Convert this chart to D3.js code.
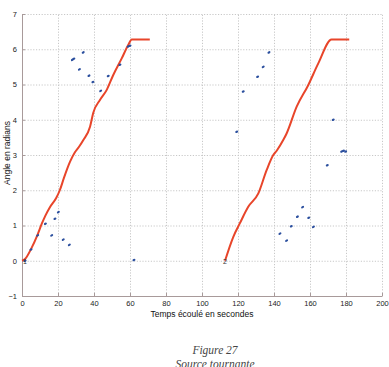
<!DOCTYPE html>
<html>
<head>
<meta charset="utf-8">
<script src="https://cdn.jsdelivr.net/npm/d3@7"></script>
<style>
  body { margin: 0; background: #fff; }
  svg { display: block; }
  .grid line { stroke: #c8c8c8; stroke-dasharray: 1.2,1.6; }
  .grid path { display: none; }
  .axis text { font-family: Arial, "Liberation Sans", sans-serif; font-size: 7.5px; fill: #222; }
  .axis path, .axis line { stroke: #a89a9a; }
</style>
</head>
<body>
<div id="chart"></div>
<script>
// data
var xTicks = [0, 20, 40, 60, 80, 100, 120, 140, 160, 180, 200];
var yTicks = [-1, 0, 1, 2, 3, 4, 5, 6, 7];

// red curve, first rotation
var curve1 = [[0,0],[1.7,0.05],[5,0.33],[8.5,0.72],[11,1.05],[13,1.28],[15.5,1.52],[19,1.78],[21,2.0],
  [23.3,2.35],[26.7,2.81],[29.4,3.08],[31.5,3.22],[34,3.42],[37.8,3.8],[39.6,4.2],[43.3,4.56],[47,4.84],
  [50.7,5.27],[55.4,5.74],[59,6.12],[61,6.28],[71,6.28]];
// red curve, second rotation
var curve2 = [[112.8,0],[117.4,0.68],[121,1.06],[125.7,1.53],[131.3,1.91],[135.9,2.57],[139.6,3.0],
  [141.5,3.12],[145.2,3.43],[147,3.61],[152.6,4.37],[159,4.98],[164.6,5.6],[172,6.28],[181.8,6.28]];

// blue measured points
var points = [[1.7,0],[5,0.32],[8.7,0.72],[13,1.05],[16.5,0.72],[18.3,1.19],[20.2,1.38],[22.9,0.6],
  [26.3,0.45],[62.2,0.02],[28,5.7],[28.8,5.73],[34,5.91],[31.9,5.43],[37.2,5.25],[39.4,5.07],
  [43.7,4.82],[47.9,5.24],[54.4,5.56],[59,6.08],[60,6.1],
  [119.3,3.66],[122.9,4.8],[130.9,5.22],[134,5.5],[137.2,5.91],[172.9,4.0],[169.6,2.71],
  [177.6,3.1],[178.6,3.12],[179.8,3.1],[143.3,0.77],[147,0.57],[149.6,0.98],[153,1.25],
  [155.9,1.52],[159.3,1.22],[161.9,0.96]];

var W = 389, H = 367;
var mLeft = 22, mRight = 382, mTop = 14, mBottom = 296;

var svg = d3.select("#chart").append("svg")
    .attr("width", W)
    .attr("height", H);

var x = d3.scaleLinear().domain([0, 200]).range([mLeft, mRight]),
    y = d3.scaleLinear().domain([-1, 7]).range([mBottom, mTop]);

// gridlines
svg.append("g")
    .attr("class", "grid")
    .attr("transform", "translate(0," + mBottom + ")")
    .call(d3.axisBottom(x).tickValues(xTicks.slice(1)).tickSize(-(mBottom - mTop)).tickFormat(""));
svg.append("g")
    .attr("class", "grid")
    .attr("transform", "translate(" + mLeft + ",0)")
    .call(d3.axisLeft(y).tickValues(yTicks.slice(1)).tickSize(-(mRight - mLeft)).tickFormat(""));

// axes
svg.append("g")
    .attr("class", "axis")
    .attr("transform", "translate(0," + mBottom + ")")
    .call(d3.axisBottom(x).tickValues(xTicks).tickSizeInner(-3).tickSizeOuter(0).tickPadding(5));
svg.append("g")
    .attr("class", "axis")
    .attr("transform", "translate(" + mLeft + ",0)")
    .call(d3.axisLeft(y).tickValues(yTicks).tickSizeInner(-3).tickSizeOuter(0).tickPadding(5));

// curves
var line = d3.line()
    .x(function(d) { return x(d[0]); })
    .y(function(d) { return y(d[1]); })
    .curve(d3.curveMonotoneX);

[curve1, curve2].forEach(function(c) {
  svg.append("path")
      .datum(c)
      .attr("d", line)
      .attr("fill", "none")
      .attr("stroke", "#e8452a")
      .attr("stroke-width", 2);
});

// measured points
svg.selectAll(".pt")
  .data(points)
  .enter().append("ellipse")
    .attr("class", "pt")
    .attr("cx", function(d) { return x(d[0]); })
    .attr("cy", function(d) { return y(d[1]); })
    .attr("rx", 1.6)
    .attr("ry", 1.1)
    .attr("transform", function(d) { return "rotate(-30," + x(d[0]) + "," + y(d[1]) + ")"; })
    .attr("fill", "#2b4f9e");

// start markers
svg.append("text")
    .attr("x", x(1.7)).attr("y", y(0) + 3)
    .attr("text-anchor", "middle")
    .style("font-family", "Arial, sans-serif").style("font-size", "7px").style("fill", "#333")
    .text("1");
svg.append("text")
    .attr("x", x(112.8)).attr("y", y(0) + 3)
    .attr("text-anchor", "middle")
    .style("font-family", "Arial, sans-serif").style("font-size", "7px").style("fill", "#333")
    .text("2");

// axis labels
svg.append("text")
    .attr("x", (mLeft + mRight) / 2)
    .attr("y", 317)
    .attr("text-anchor", "middle")
    .style("font-family", "Arial, sans-serif").style("font-size", "8.5px").style("fill", "#111")
    .text("Temps écoulé en secondes");
svg.append("text")
    .attr("transform", "translate(10," + 153 + ") rotate(-90)")
    .attr("text-anchor", "middle")
    .style("font-family", "Arial, sans-serif").style("font-size", "8.5px").style("fill", "#111")
    .text("Angle en radians");

// caption
svg.append("text")
    .attr("x", 215).attr("y", 354)
    .attr("text-anchor", "middle")
    .style("font-family", "'Liberation Serif', 'DejaVu Serif', serif").style("font-style", "italic")
    .style("font-size", "11.5px").style("fill", "#444")
    .text("Figure 27");
svg.append("text")
    .attr("x", 215).attr("y", 368)
    .attr("text-anchor", "middle")
    .style("font-family", "'Liberation Serif', 'DejaVu Serif', serif").style("font-style", "italic")
    .style("font-size", "11.5px").style("fill", "#444")
    .text("Source tournante");
</script>
</body>
</html>
